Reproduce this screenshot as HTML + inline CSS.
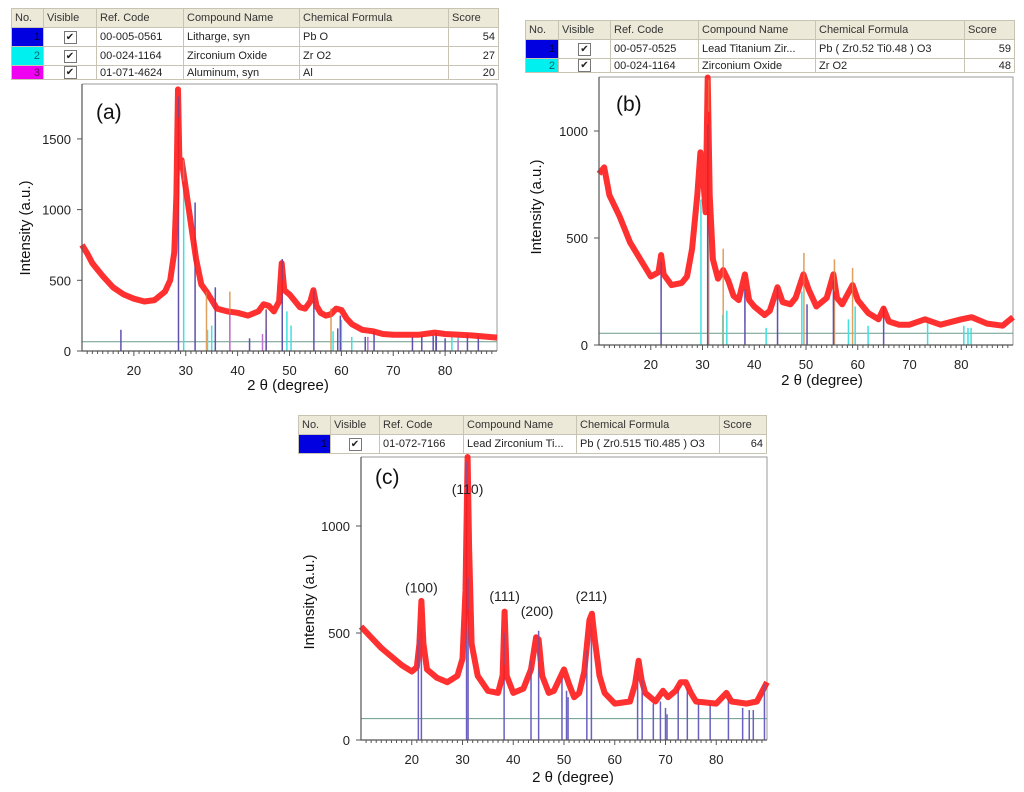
<!DOCTYPE html>
<html><head><meta charset="utf-8">
<style>
html,body{margin:0;padding:0;background:#fff;}
body{width:1024px;height:792px;position:relative;overflow:hidden;font-family:"Liberation Sans",sans-serif;}
table.t{position:absolute;border-collapse:collapse;font-size:11px;color:#222;background:#fff;table-layout:fixed;}
table.t td{border:1px solid #c8c4b4;padding:0 3px;height:18px;white-space:nowrap;overflow:hidden;}
table.t tr.h td{background:#ece9d8;color:#333;}
td.num{text-align:right;}
td.cb{text-align:center;}
span.box{display:inline-block;width:11px;height:11px;border:1px solid #777;font-size:10px;line-height:11px;text-align:center;}
svg{position:absolute;left:0;top:0;}
</style></head><body>
<table class="t" style="left:11px;top:8px;width:487px">
<colgroup><col style="width:32px"><col style="width:53px"><col style="width:87px"><col style="width:116px"><col style="width:149px"><col style="width:50px"></colgroup>
<tr class="h"><td>No.</td><td>Visible</td><td>Ref. Code</td><td>Compound Name</td><td>Chemical Formula</td><td>Score</td></tr>
<tr><td class="num" style="background:#0000e0;color:#003">1</td><td class="cb"><span class="box">✔</span></td><td>00-005-0561</td><td>Litharge, syn</td><td>Pb O</td><td class="num">54</td></tr>
<tr><td class="num" style="background:#00f0f0;color:#066">2</td><td class="cb"><span class="box">✔</span></td><td>00-024-1164</td><td>Zirconium Oxide</td><td>Zr O2</td><td class="num">27</td></tr>
<tr><td class="num" style="background:#f000f0;color:#606;height:13px">3</td><td class="cb" style="height:13px"><span class="box">✔</span></td><td style="height:13px">01-071-4624</td><td style="height:13px">Aluminum, syn</td><td style="height:13px">Al</td><td class="num" style="height:13px">20</td></tr>
</table>
<table class="t" style="left:525px;top:20px;width:489px">
<colgroup><col style="width:33px"><col style="width:52px"><col style="width:88px"><col style="width:117px"><col style="width:149px"><col style="width:50px"></colgroup>
<tr class="h"><td>No.</td><td>Visible</td><td>Ref. Code</td><td>Compound Name</td><td>Chemical Formula</td><td>Score</td></tr>
<tr><td class="num" style="background:#0000e0;color:#003">1</td><td class="cb"><span class="box">✔</span></td><td>00-057-0525</td><td>Lead Titanium Zir...</td><td>Pb ( Zr0.52 Ti0.48 ) O3</td><td class="num">59</td></tr>
<tr><td class="num" style="background:#00f0f0;color:#066;height:13px">2</td><td class="cb" style="height:13px"><span class="box">✔</span></td><td style="height:13px">00-024-1164</td><td style="height:13px">Zirconium Oxide</td><td style="height:13px">Zr O2</td><td class="num" style="height:13px">48</td></tr>
</table>
<table class="t" style="left:298px;top:415px;width:468px">
<colgroup><col style="width:32px"><col style="width:49px"><col style="width:84px"><col style="width:113px"><col style="width:143px"><col style="width:47px"></colgroup>
<tr class="h"><td>No.</td><td>Visible</td><td>Ref. Code</td><td>Compound Name</td><td>Chemical Formula</td><td>Score</td></tr>
<tr><td class="num" style="background:#0000e0;color:#003">1</td><td class="cb"><span class="box">✔</span></td><td>01-072-7166</td><td>Lead Zirconium Ti...</td><td>Pb ( Zr0.515 Ti0.485 ) O3</td><td class="num">64</td></tr>
</table>
<svg id="s" width="1024" height="792" xmlns="http://www.w3.org/2000/svg"></svg>
<script>
// ---- data ----
const curveA = [[10,750],[11,690],[12,620],[14,530],[16,450],[18,400],[20,370],[22,350],[24,360],[26,420],[27,500],[27.8,700],[28.2,1100],[28.5,1850],[28.8,1300],[29.2,1350],[30,1150],[31,900],[32,650],[33,470],[34,420],[35,360],[36,300],[38,280],[40,270],[42,250],[44,280],[45,330],[46,320],[47,280],[48,350],[48.5,620],[49,430],[50,400],[52,310],[53,300],[54,350],[54.6,430],[55.2,320],[56,270],[57,250],[58,260],[59,300],[60,290],[61,230],[62,190],[64,150],[66,140],[68,120],[70,115],[75,115],[78,130],[80,120],[85,110],[90,95]];
const sticksA_blue = [[17.5,150],[28.6,1800],[31.8,1050],[35.7,450],[42.3,90],[45.5,290],[48.6,650],[54.7,430],[59.3,160],[59.8,250],[64.6,100],[66.3,140],[73.7,100],[75.5,110],[77.7,110],[78.3,130],[80,90],[84.3,120],[86.4,110]];
const sticksA_cyan = [[29.6,1350],[34.2,150],[35.0,180],[49.5,280],[50.3,180],[58.4,140],[60,220],[62,100],[81.3,100],[82.5,100]];
const sticksA_mag = [[38.5,270],[44.8,120],[65.1,100],[78.2,120],[82.5,80]];
const sticksA_orange = [[34,420],[38.5,420],[45.5,300],[58,300]];
const curveB = [[10,800],[11,830],[12,700],[14,600],[16,480],[18,400],[20,320],[21.5,340],[22,420],[22.5,330],[24,280],[26,290],[27,320],[28,450],[29,700],[29.6,900],[30.2,760],[30.6,620],[31,1250],[31.4,700],[32,400],[33,310],[34,350],[35,300],[36,230],[37,210],[38.2,330],[39,210],[40,180],[42,140],[43,160],[44.5,270],[45.5,200],[47,190],[48,220],[49.5,330],[50.5,260],[52,180],[54,220],[55.3,330],[56,220],[57,190],[59,280],[60,210],[62,150],[64,120],[65,170],[66,110],[68,95],[70,95],[73,120],[76,95],[80,120],[82,130],[85,100],[88,90],[90,130]];
const sticksB_blue = [[22,390],[31,1030],[38.2,260],[44.5,270],[50.2,190],[55.3,300],[65,180]];
const sticksB_orange = [[31.2,1240],[34,450],[49.6,430],[55.5,400],[59,360]];
const sticksB_cyan = [[29.7,680],[33.9,140],[34.7,160],[42.3,80],[49.2,250],[58.2,120],[59.5,180],[62,90],[73.5,100],[80.5,90],[81.3,80],[81.9,80]];
const curveC = [[10,530],[12,480],[14,430],[16,390],[18,350],[20,320],[21,340],[21.5,450],[21.9,650],[22.3,450],[23,330],[25,290],[27,270],[29,300],[30,380],[30.6,700],[31,1340],[31.3,900],[31.8,450],[33,300],[35,230],[37,220],[37.9,300],[38.3,600],[38.7,300],[40,220],[42,240],[43.5,330],[44.5,480],[45,470],[45.7,300],[47,220],[48,230],[49,280],[50,330],[51,260],[52,200],[53,220],[54,320],[55,560],[55.5,590],[56,480],[57,300],[58,220],[60,170],[63,180],[64,260],[64.7,370],[65.3,280],[66,220],[68,180],[69.5,230],[70.5,200],[72,230],[73,270],[74,270],[75,220],[76,180],[80,170],[82,220],[83,180],[86,170],[88,180],[90,270]];
const sticksC_blue = [[21.3,470],[21.9,520],[30.8,1300],[31.1,760],[38.2,500],[43.5,370],[45,510],[49.6,290],[50.5,230],[50.8,200],[54.5,420],[55.4,540],[64.5,320],[65.4,280],[67.6,170],[69,180],[70,150],[70.3,120],[72.5,250],[74.3,240],[76.5,170],[78.8,170],[82.4,190],[85.2,150],[86.5,140],[87.3,140],[89.5,260]];
const hklLabels = ["(100)","(110)","(111)","(200)","(211)"];
const hklTheta = [21.9,31,38.3,44.7,55.4];
const hklInt = [690,1150,650,580,650];
const xTicks = [20,30,40,50,60,70,80];
const yTicksA = [0,500,1000,1500];
const yTicksB = [0,500,1000];
const yTicksC = [0,500,1000];

const NS="http://www.w3.org/2000/svg";
const svg=document.getElementById('s');
function el(tag,attrs,parent){const e=document.createElementNS(NS,tag);for(const k in attrs)e.setAttribute(k,attrs[k]);(parent||svg).appendChild(e);return e;}

function panel(p){
  const g=el('g',{});
  
  
  const X=t=>p.x0+(t-10)*(p.x1-p.x0)/80;
  const Y=v=>p.yb-v*p.k;
  const fr=el('path',{d:`M${p.x0} ${p.top}H${p.x1}V${p.yb}`,fill:'none',stroke:'#999','stroke-width':1},g);
  
  
  const bl=el('line',{x1:p.x0,x2:p.x1,y1:Y(p.base),y2:Y(p.base),stroke:'#6a9a8a','stroke-width':1},g);
  
  
  for(const s of p.sticks){
    for(const d of s.data){
      const ln=el('line',{x1:X(d[0]),x2:X(d[0]),y1:p.yb,y2:Y(d[1]),stroke:s.color,'stroke-width':1.5},g);
      
      
    }
  }
  const pts=p.curve.map(d=>X(d[0]).toFixed(1)+','+Math.max(p.top,Y(d[1])).toFixed(1)).join(' ');
  const pl=el('polyline',{points:pts,fill:'none',stroke:'#ff1a1a','stroke-width':6,'stroke-linejoin':'round',opacity:0.9},g);
  
  
  for(const s of p.sticks){
    for(const d of s.data){
      if(d[1]>p.base+150){
        const ln=el('line',{x1:X(d[0]),x2:X(d[0]),y1:Y(d[1]),y2:Y(Math.max(0,d[1]-150)),stroke:s.color,'stroke-width':1.2,opacity:0.6},g);
        
        
      }
    }
  }
  const ax=el('path',{d:`M${p.x0} ${p.top}V${p.yb}H${p.x1}`,fill:'none',stroke:'#555','stroke-width':1.2},g);
  
  
  for(let t=11;t<90;t++){
    const tk=el('line',{x1:X(t),x2:X(t),y1:p.yb,y2:p.yb+(t%10==0?5:3),stroke:'#555','stroke-width':1},g);
    
    
  }
  for(const t of xTicks){
    const tx=el('text',{x:X(t),y:p.yb+24,'text-anchor':'middle','font-size':13,fill:'#222'},g);
    tx.textContent=t;
    
    
  }
  for(const v of p.yt){
    const tk=el('line',{x1:p.x0-5,x2:p.x0,y1:Y(v),y2:Y(v),stroke:'#555'},g);
    
    
    const tx=el('text',{x:p.x0-11,y:Y(v)+5,'text-anchor':'end','font-size':13,fill:'#222'},g);
    tx.textContent=v;
    
    
  }
  const xt=el('text',{x:p.xtx,y:p.xty,'text-anchor':'middle','font-size':15,fill:'#111'},g);
  xt.textContent='2 θ (degree)';
  
  
  const yt=el('text',{x:0,y:0,'text-anchor':'middle','font-size':15,fill:'#111',transform:`translate(${p.ytx},${p.yty}) rotate(-90)`},g);
  yt.textContent='Intensity (a.u.)';
  
  
  const lb=el('text',{x:p.lx,y:p.ly,'font-size':21,fill:'#111'},g);
  lb.textContent='('+p.id+')';
  
  
  return {X,Y,g};
}

panel({id:'a',x0:82,x1:497,top:84,yb:351,k:70.7/500,base:65,yt:yTicksA,curve:curveA,
  sticks:[{name:'cyan',color:'#40e0e0',data:sticksA_cyan},{name:'orange',color:'#e0a060',data:sticksA_orange},{name:'magenta',color:'#c070d0',data:sticksA_mag},{name:'blue',color:'#6050b0',data:sticksA_blue}],
  xtx:288,xty:390,ytx:30,yty:228,lx:96,ly:119});
panel({id:'b',x0:599,x1:1013,top:77,yb:345,k:107/500,base:55,yt:yTicksB,curve:curveB,
  sticks:[{name:'cyan',color:'#40e0e0',data:sticksB_cyan},{name:'orange',color:'#e0a060',data:sticksB_orange},{name:'blue',color:'#6050b0',data:sticksB_blue}],
  xtx:822,xty:385,ytx:541,yty:207,lx:616,ly:111});
const pc=panel({id:'c',x0:361,x1:767,top:457,yb:740,k:107/500,base:100,yt:yTicksC,curve:curveC,
  sticks:[{name:'blue',color:'#6a60c0',data:sticksC_blue}],
  xtx:573,xty:782,ytx:314,yty:602,lx:375,ly:484});
for(let i=0;i<hklLabels.length;i++){
  const tx=el('text',{x:pc.X(hklTheta[i]),y:pc.Y(hklInt[i]),'text-anchor':'middle','font-size':14,fill:'#222'},pc.g);
  tx.textContent=hklLabels[i];
  
  
}
</script>
</body></html>
